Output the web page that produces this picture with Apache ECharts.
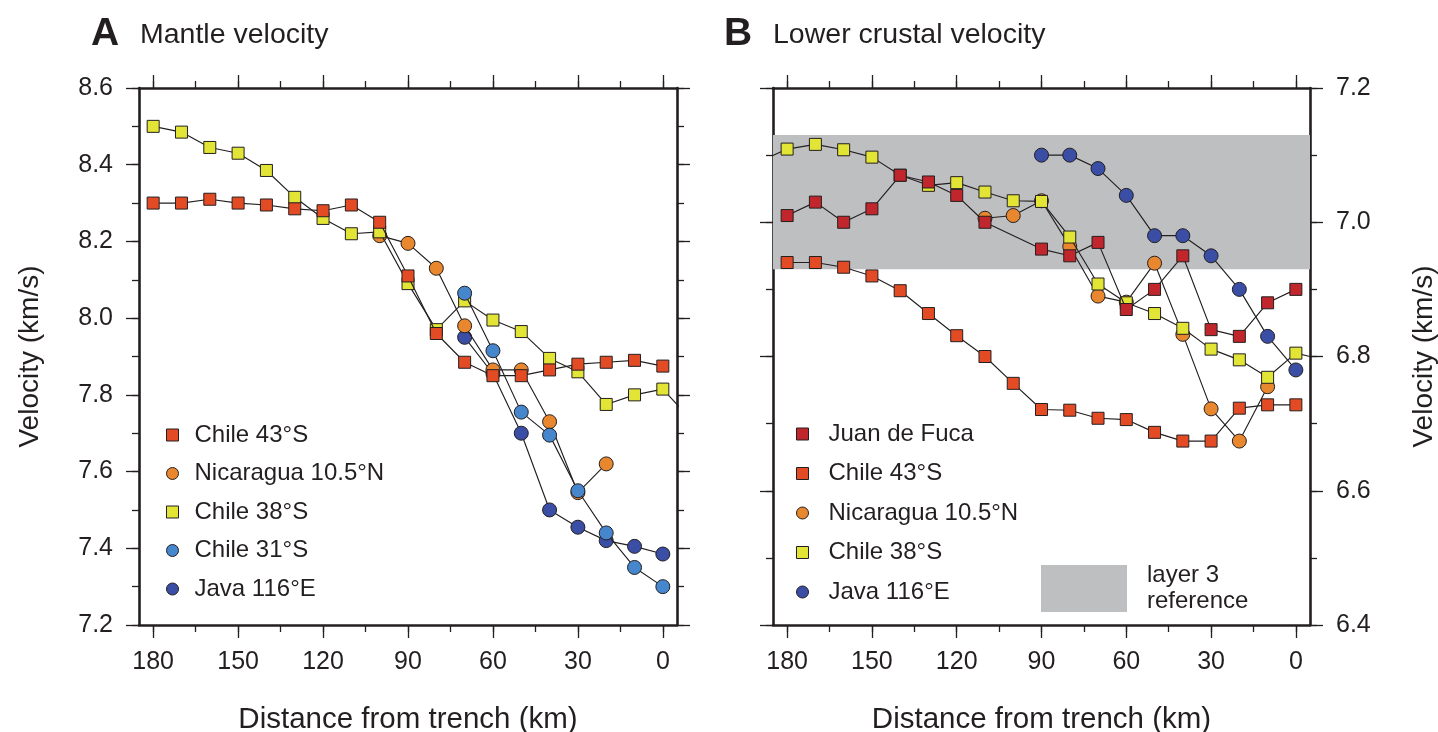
<!DOCTYPE html>
<html>
<head>
<meta charset="utf-8">
<title>Mantle and lower crustal velocity vs distance from trench</title>
<script src="https://cdn.jsdelivr.net/npm/echarts@6/dist/echarts.min.js"></script>
<style>
  html, body { margin: 0; padding: 0; background: #ffffff; }
  #chart { width: 1438px; height: 732px; }
</style>
</head>
<body>
<div id="chart"></div>
<script>
// ---- Panel A: mantle velocity (km/s) vs distance from trench (km) ----
const distA43 = [180,170,160,150,140,130,120,110,100,90,80,70,60,50,40,30,20,10,0];
const chile43A = [8.30,8.30,8.31,8.30,8.295,8.285,8.28,8.295,8.25,8.11,7.96,7.885,7.85,7.85,7.865,7.88,7.885,7.89,7.875];

const distA38 = [180,170,160,150,140,130,120,110,100,90,80,70,60,50,40,30,20,10,0,-10];
const chile38A = [8.50,8.485,8.445,8.43,8.385,8.315,8.26,8.22,8.225,8.09,7.97,8.045,7.995,7.965,7.895,7.86,7.775,7.80,7.815,7.735];

const distANic = [100,90,80,70,60,50,40,30,20];
const nicaraguaA = [8.215,8.195,8.13,7.98,7.865,7.865,7.73,7.545,7.62];

const distA31 = [70,60,50,40,30,20,10,0];
const chile31A = [8.065,7.915,7.755,7.695,7.55,7.44,7.35,7.30];

const distAJava = [70,60,50,40,30,20,10,0];
const javaA = [7.95,7.855,7.70,7.50,7.455,7.42,7.405,7.385];

// ---- Panel B: lower crustal velocity (km/s) ----
const distBJdf = [180,170,160,150,140,130,120,110,90,80,70,60,50,40,30,20,10,0];
const juanDeFucaB = [7.01,7.03,7.00,7.02,7.07,7.06,7.04,7.00,6.96,6.95,6.97,6.87,6.90,6.95,6.84,6.83,6.88,6.90];

const distB43 = [180,170,160,150,140,130,120,110,100,90,80,70,60,50,40,30,20,10,0];
const chile43B = [6.94,6.94,6.933,6.92,6.898,6.864,6.831,6.80,6.76,6.721,6.72,6.708,6.706,6.687,6.674,6.674,6.723,6.728,6.728];

const distBNic = [110,100,90,80,70,60,50,40,30,20,10];
const nicaraguaB = [7.006,7.01,7.032,6.964,6.89,6.881,6.939,6.833,6.722,6.674,6.755];

const distB38 = [190,180,170,160,150,140,130,120,110,100,90,80,70,60,50,40,30,20,10,0,-10];
const chile38B = [7.09,7.109,7.116,7.108,7.097,7.07,7.055,7.059,7.045,7.032,7.031,6.978,6.908,6.88,6.864,6.842,6.811,6.795,6.769,6.805,6.795];

const distBJava = [90,80,70,60,50,40,30,20,10,0];
const javaB = [7.10,7.10,7.08,7.04,6.98,6.98,6.95,6.90,6.83,6.78];

// layer 3 reference velocity range (km/s)
const layer3Range = [6.93, 7.13];

// axis ticks
const distMajor = [180,150,120,90,60,30,0];
const distMinor = [180,165,150,135,120,105,90,75,60,45,30,15,0];
const velMajorA = [7.2,7.4,7.6,7.8,8.0,8.2,8.4,8.6];
const velMinorA = [7.2,7.3,7.4,7.5,7.6,7.7,7.8,7.9,8.0,8.1,8.2,8.3,8.4,8.5,8.6];
const velMajorB = [6.4,6.6,6.8,7.0,7.2];
const velMinorB = [6.4,6.5,6.6,6.7,6.8,6.9,7.0,7.1,7.2];

const INK = '#231f20';
const FONT = '"Liberation Sans", Arial, Helvetica, sans-serif';
const COLORS = {
  chile43: '#e34b25',
  juan: '#c1262c',
  nicaragua: '#e8872e',
  chile38: '#e2e436',
  chile31: '#4586cc',
  java: '#3a4ea5',
  band: '#bebfc1'
};

const pairs = (xs, ys) => xs.map((x, i) => [x, ys[i]]);

const frameLine = { show: true, onZero: false, lineStyle: { color: INK, width: 2.6 } };
const noLine = { show: false, onZero: false };
const tickStyle = { color: INK, width: 1.3 };

// each frame side = a long-tick axis plus a short-tick axis at the same place
function xAxesFor(gridIndex) {
  const common = { type: 'value', gridIndex, min: -5, max: 185, inverse: true, splitLine: { show: false } };
  return [
    Object.assign({}, common, {
      position: 'bottom', axisLine: frameLine,
      axisTick: { show: true, inside: false, length: 13, customValues: distMajor, lineStyle: tickStyle },
      axisLabel: { show: true, customValues: distMajor, margin: 25, fontSize: 25, color: INK, fontFamily: FONT },
      name: 'Distance from trench (km)', nameLocation: 'middle', nameGap: 80,
      nameTextStyle: { fontSize: 29.5, color: INK, fontFamily: FONT }
    }),
    Object.assign({}, common, {
      position: 'bottom', axisLine: noLine,
      axisTick: { show: true, length: 7, customValues: distMinor, lineStyle: tickStyle },
      axisLabel: { show: false }
    }),
    Object.assign({}, common, {
      position: 'top', axisLine: frameLine,
      axisTick: { show: true, length: 13, customValues: distMajor, lineStyle: tickStyle },
      axisLabel: { show: false }
    }),
    Object.assign({}, common, {
      position: 'top', axisLine: noLine,
      axisTick: { show: true, length: 7, customValues: distMinor, lineStyle: tickStyle },
      axisLabel: { show: false }
    })
  ];
}

function yAxesFor(gridIndex, min, max, major, minor, labelSide, nameGap) {
  const common = { type: 'value', gridIndex, min, max, splitLine: { show: false } };
  const out = [];
  ['left', 'right'].forEach(side => {
    const labelled = side === labelSide;
    out.push(Object.assign({}, common, {
      position: side, axisLine: frameLine,
      axisTick: { show: true, length: 13, customValues: major, lineStyle: tickStyle },
      axisLabel: {
        show: labelled, customValues: major, margin: 26, fontSize: 25, color: INK, fontFamily: FONT,
        formatter: v => Number(v).toFixed(1)
      },
      name: labelled ? 'Velocity (km/s)' : '', nameLocation: 'middle', nameGap: labelled ? nameGap : 0,
      nameRotate: 90,
      nameTextStyle: { fontSize: 28, color: INK, fontFamily: FONT }
    }));
    out.push(Object.assign({}, common, {
      position: side, axisLine: noLine,
      axisTick: { show: true, length: 7, customValues: minor, lineStyle: tickStyle },
      axisLabel: { show: false }
    }));
  });
  return out;
}

function lineSeries(name, data, color, symbol, xAxisIndex, yAxisIndex, z) {
  return {
    name, type: 'line', data, xAxisIndex, yAxisIndex, z,
    symbol, symbolSize: symbol === 'circle' ? 14 : 12,
    showAllSymbol: true, clip: true, animation: false,
    lineStyle: { color: INK, width: 1.15 },
    itemStyle: { color, borderColor: INK, borderWidth: 1 },
    emphasis: { disabled: true }
  };
}

const legendItem = (name, icon, color) => ({
  name, icon, itemStyle: { color, borderColor: INK, borderWidth: 1 }
});

const chart = echarts.init(document.getElementById('chart'), null, { renderer: 'canvas' });

chart.setOption({
  animation: false,
  backgroundColor: '#ffffff',
  title: [
    { text: 'A', left: 91, top: 15, padding: 0, textStyle: { fontSize: 39, fontWeight: 'bold', color: INK, fontFamily: FONT } },
    { text: 'Mantle velocity', left: 140, top: 21, padding: 0, textStyle: { fontSize: 28.5, fontWeight: 'normal', color: INK, fontFamily: FONT } },
    { text: 'B', left: 724, top: 15, padding: 0, textStyle: { fontSize: 39, fontWeight: 'bold', color: INK, fontFamily: FONT } },
    { text: 'Lower crustal velocity', left: 773, top: 21, padding: 0, textStyle: { fontSize: 28.5, fontWeight: 'normal', color: INK, fontFamily: FONT } }
  ],
  grid: [
    { left: 139, top: 88, width: 538, height: 537, containLabel: false, outerBoundsMode: 'none' },
    { left: 773, top: 88, width: 537, height: 537, containLabel: false, outerBoundsMode: 'none' }
  ],
  xAxis: [].concat(xAxesFor(0), xAxesFor(1)),
  yAxis: [].concat(
    yAxesFor(0, 7.2, 8.6, velMajorA, velMinorA, 'left', 95),
    yAxesFor(1, 6.4, 7.2, velMajorB, velMinorB, 'right', 100)
  ),
  legend: [
    {
      orient: 'vertical', left: 161, top: 418, itemWidth: 12, itemHeight: 12, itemGap: 14.5,
      selectedMode: false,
      textStyle: { fontSize: 24, color: INK, fontFamily: FONT, lineHeight: 24, padding: [0, 0, 0, 11] },
      data: [
        legendItem('Chile 43°S', 'rect', COLORS.chile43),
        legendItem('Nicaragua 10.5°N', 'circle', COLORS.nicaragua),
        legendItem('Chile 38°S', 'rect', COLORS.chile38),
        legendItem('Chile 31°S', 'circle', COLORS.chile31),
        legendItem('Java 116°E', 'circle', COLORS.java)
      ]
    },
    {
      orient: 'vertical', left: 791, top: 417, itemWidth: 12, itemHeight: 12, itemGap: 15.5,
      selectedMode: false,
      textStyle: { fontSize: 24, color: INK, fontFamily: FONT, lineHeight: 24, padding: [0, 0, 0, 15] },
      data: [
        legendItem('Juan de Fuca', 'rect', COLORS.juan),
        legendItem('Chile 43°S ', 'rect', COLORS.chile43),
        legendItem('Nicaragua 10.5°N ', 'circle', COLORS.nicaragua),
        legendItem('Chile 38°S ', 'rect', COLORS.chile38),
        legendItem('Java 116°E ', 'circle', COLORS.java)
      ]
    }
  ],
  graphic: [
    { type: 'rect', left: 1041, top: 565, shape: { width: 86, height: 47 }, style: { fill: COLORS.band }, silent: true },
    { type: 'text', left: 1147, top: 562, silent: true,
      style: { text: 'layer 3\nreference', fontSize: 24, lineHeight: 26, fill: INK, fontFamily: FONT } }
  ],
  series: [
    // panel A (x axis 0, y axis 0)
    lineSeries('Java 116°E', pairs(distAJava, javaA), COLORS.java, 'circle', 0, 0, 3),
    lineSeries('Nicaragua 10.5°N', pairs(distANic, nicaraguaA), COLORS.nicaragua, 'circle', 0, 0, 4),
    lineSeries('Chile 38°S', pairs(distA38, chile38A), COLORS.chile38, 'rect', 0, 0, 5),
    lineSeries('Chile 31°S', pairs(distA31, chile31A), COLORS.chile31, 'circle', 0, 0, 6),
    lineSeries('Chile 43°S', pairs(distA43, chile43A), COLORS.chile43, 'rect', 0, 0, 7),

    // panel B band (x axis 4, y axis 6 = labelled right axis of grid 1)
    {
      name: 'layer 3 reference', type: 'line', data: [], xAxisIndex: 4, yAxisIndex: 6, z: 1,
      markArea: {
        silent: true,
        itemStyle: { color: COLORS.band, opacity: 1 },
        data: [[{ xAxis: -5, yAxis: layer3Range[0] }, { xAxis: 185, yAxis: layer3Range[1] }]]
      }
    },
    lineSeries('Chile 43°S ', pairs(distB43, chile43B), COLORS.chile43, 'rect', 4, 6, 3),
    lineSeries('Nicaragua 10.5°N ', pairs(distBNic, nicaraguaB), COLORS.nicaragua, 'circle', 4, 6, 4),
    lineSeries('Chile 38°S ', pairs(distB38, chile38B), COLORS.chile38, 'rect', 4, 6, 5),
    lineSeries('Juan de Fuca', pairs(distBJdf, juanDeFucaB), COLORS.juan, 'rect', 4, 6, 6),
    lineSeries('Java 116°E ', pairs(distBJava, javaB), COLORS.java, 'circle', 4, 6, 7)
  ]
});
</script>
</body>
</html>
